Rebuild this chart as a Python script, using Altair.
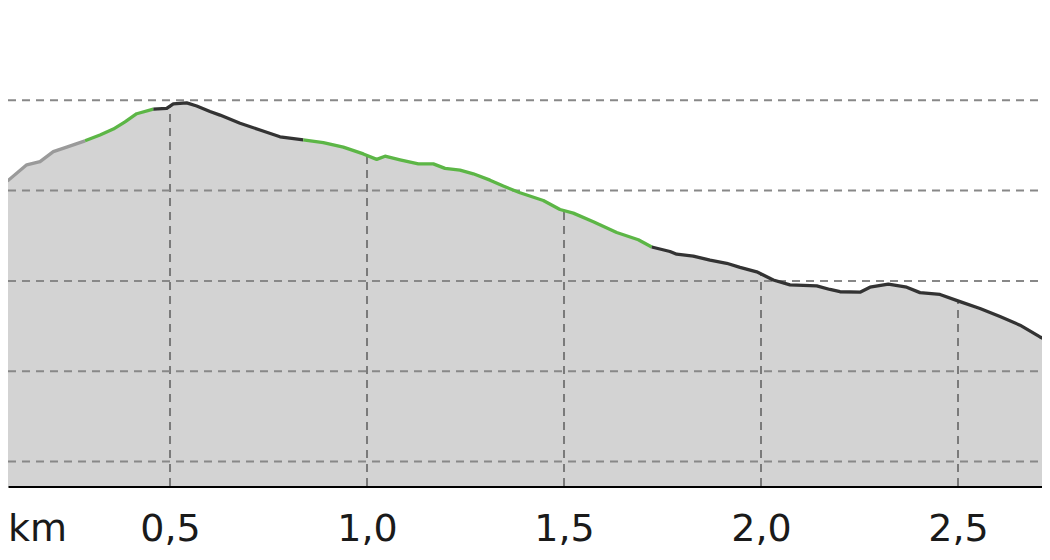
import altair as alt
import pandas as pd

# Distance along the track (km) and elevation (m)
km = [0.0685, 0.0888, 0.1363, 0.1701, 0.2038, 0.2378, 0.2843, 0.3223, 0.3561, 0.3858,
      0.4155, 0.4576, 0.4916, 0.5084, 0.5424, 0.5678, 0.6015, 0.6269, 0.6777, 0.7284,
      0.7792, 0.8383, 0.8891, 0.9398, 0.9906, 1.0246, 1.0457, 1.0838, 1.1302, 1.1683,
      1.1980, 1.2360, 1.2698, 1.3122, 1.3459, 1.3883, 1.4475, 1.4898, 1.5236, 1.5744,
      1.6338, 1.6886, 1.7226, 1.7690, 1.7860, 1.8282, 1.8706, 1.9129, 1.9467, 1.9891,
      2.0312, 2.0736, 2.1414, 2.1751, 2.2005, 2.2513, 2.2766, 2.3231, 2.3698, 2.4036,
      2.4543, 2.5051, 2.5558, 2.6066, 2.6574, 2.7081, 2.7335]
elev = [262.2, 262.2, 265.7, 266.4, 268.6, 269.6, 271.0, 272.3, 273.6, 275.2,
        277.0, 278.0, 278.2, 279.2, 279.4, 278.7, 277.5, 276.7, 274.9, 273.4,
        271.9, 271.2, 270.6, 269.6, 268.1, 266.9, 267.6, 266.8, 265.9, 265.9,
        264.9, 264.5, 263.7, 262.3, 261.0, 259.5, 257.8, 255.8, 255.0, 253.1,
        250.7, 249.1, 247.5, 246.5, 245.9, 245.5, 244.6, 243.9, 243.0, 242.0,
        240.2, 239.1, 238.9, 238.1, 237.6, 237.5, 238.6, 239.3, 238.6, 237.4,
        237.0, 235.4, 233.9, 232.1, 230.2, 227.6, 226.5]

# Surface segments: (first index, last index, surface type)
segments = [(0, 6, "unknown"), (6, 11, "path"), (11, 21, "road"),
            (21, 42, "path"), (42, 66, "road")]
surface_types = ["unknown", "path", "road"]
surface_colors = ["#9a9a9a", "#5cb646", "#333333"]

x_ticks = [0.5, 1.0, 1.5, 2.0, 2.5]
y_grid = [200, 220, 240, 260, 280]
x_domain = [0.0888, 2.7132]
y_domain = [194.6, 300.4]

profile = pd.DataFrame({"km": km, "elev": elev})
rows = []
for sid, (a, b, s) in enumerate(segments):
    for i in range(a, b + 1):
        rows.append({"km": km[i], "elev": elev[i], "seg": sid, "surface": s})
line_df = pd.DataFrame(rows)

xs = alt.Scale(domain=x_domain, nice=False, zero=False)
ys = alt.Scale(domain=y_domain, nice=False, zero=False)

x_axis = alt.Axis(
    values=x_ticks, format=".1f", labelExpr="replace(datum.label, '.', ',')",
    grid=False, ticks=False, tickSize=0, labelPadding=54, labelBaseline="alphabetic",
    labelFont="DejaVu Sans", labelFontSize=38, labelColor="#1a1a1a",
    domainColor="#000000", domainWidth=3, labelFlush=False,
    title="km", titleX=29, titleY=54, titleAlign="center", titleBaseline="alphabetic",
    titleFont="DejaVu Sans", titleFontSize=38, titleFontWeight="normal",
    titleColor="#1a1a1a", titleAnchor="start",
)

base = alt.Chart(profile)

gray_area = base.mark_area(color="#d3d3d3", clip=True).encode(
    x=alt.X("km:Q", scale=xs, axis=x_axis),
    y=alt.Y("elev:Q", scale=ys, axis=None),
    y2=alt.datum(y_domain[0]),
)

vrules = alt.Chart(pd.DataFrame({"t": x_ticks})).mark_rule(
    color="#7a7a7a", strokeWidth=2, strokeDash=[8, 6]
).encode(
    x=alt.X("t:Q", scale=xs),
    y=alt.datum(y_domain[0], scale=ys),
    y2=alt.datum(y_domain[1]),
)

white_area = base.mark_area(color="#ffffff", clip=True).encode(
    x=alt.X("km:Q", scale=xs),
    y=alt.Y("elev:Q", scale=ys),
    y2=alt.datum(y_domain[1]),
)

hrules = alt.Chart(pd.DataFrame({"g": y_grid})).mark_rule(
    color="#888888", strokeWidth=2, strokeDash=[8, 6]
).encode(
    y=alt.Y("g:Q", scale=ys),
    x=alt.datum(x_domain[0], scale=xs),
    x2=alt.datum(x_domain[1]),
)

line = alt.Chart(line_df).mark_line(strokeWidth=3.3, clip=True, strokeJoin="round").encode(
    x=alt.X("km:Q", scale=xs),
    y=alt.Y("elev:Q", scale=ys),
    color=alt.Color("surface:N", scale=alt.Scale(domain=surface_types, range=surface_colors), legend=None),
    detail="seg:N",
    order="km:Q",
)

chart = alt.layer(gray_area, vrules, white_area, hrules, line).properties(
    width=1034, height=478,
    autosize=alt.AutoSizeParams(type="none"),
    padding={"left": 0, "top": 0, "right": 0, "bottom": 64},
).configure_view(stroke=None).configure(background="#ffffff")

chart.save("out.html", embed_options={"renderer": "svg", "actions": False})
